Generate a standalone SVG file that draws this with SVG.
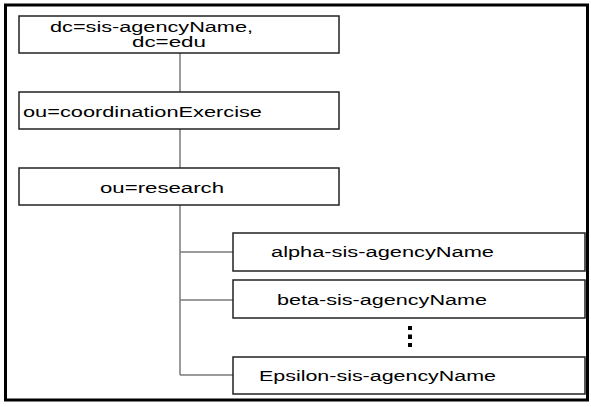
<svg xmlns="http://www.w3.org/2000/svg" width="591" height="407" viewBox="0 0 591 407">
<style>
.box{fill:#fff;stroke:#222;stroke-width:1.5}
.lbl{font-family:"Liberation Sans",Arial,sans-serif;font-size:14px;fill:#000}
.con{stroke:#7a7a7a;stroke-width:1.5;fill:none}
</style>
<rect x="0" y="0" width="591" height="407" fill="#fff"/>
<rect x="5.5" y="5" width="582" height="395" fill="none" stroke="#000" stroke-width="3"/>
<g id="connectors">
<line class="con" x1="180" y1="53" x2="180" y2="92"/>
<line class="con" x1="180" y1="129" x2="180" y2="168"/>
<line class="con" x1="180" y1="205" x2="180" y2="375"/>
<line class="con" x1="180" y1="252" x2="233" y2="252"/>
<line class="con" x1="180" y1="300" x2="233" y2="300"/>
<line class="con" x1="180" y1="375" x2="233" y2="375"/>
</g>
<g id="root">
<rect class="box" x="19" y="16" width="320" height="37"/>
<text class="lbl" x="50" y="32" textLength="203" lengthAdjust="spacingAndGlyphs">dc=sis-agencyName,</text>
<text class="lbl" x="132" y="47" textLength="74" lengthAdjust="spacingAndGlyphs">dc=edu</text>
</g>
<g id="coordinationExercise">
<rect class="box" x="19" y="92" width="320" height="37"/>
<text class="lbl" x="23" y="117" textLength="239" lengthAdjust="spacingAndGlyphs">ou=coordinationExercise</text>
</g>
<g id="research">
<rect class="box" x="19" y="168" width="320" height="37"/>
<text class="lbl" x="100" y="193" textLength="124" lengthAdjust="spacingAndGlyphs">ou=research</text>
</g>
<g id="alpha">
<rect class="box" x="233" y="233" width="352" height="38"/>
<text class="lbl" x="271" y="257" textLength="223" lengthAdjust="spacingAndGlyphs">alpha-sis-agencyName</text>
</g>
<g id="beta">
<rect class="box" x="233" y="280" width="352" height="38"/>
<text class="lbl" x="277" y="305" textLength="210" lengthAdjust="spacingAndGlyphs">beta-sis-agencyName</text>
</g>
<g id="ellipsis">
<rect x="408" y="326" width="4" height="4" fill="#000"/>
<rect x="408" y="334.5" width="4" height="4.5" fill="#000"/>
<rect x="408" y="343" width="4" height="4" fill="#000"/>
</g>
<g id="epsilon">
<rect class="box" x="233" y="357" width="352" height="37"/>
<text class="lbl" x="259" y="381" textLength="237" lengthAdjust="spacingAndGlyphs">Epsilon-sis-agencyName</text>
</g>
</svg>
